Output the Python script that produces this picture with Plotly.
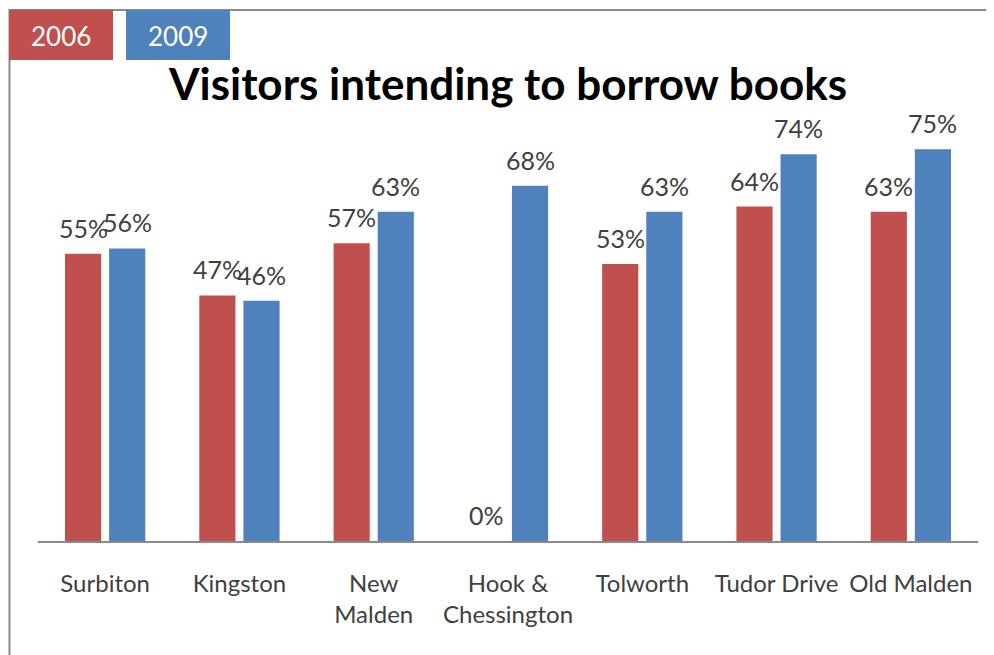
import plotly.graph_objects as go

categories = ["Surbiton", "Kingston", "New<br>Malden", "Hook &<br>Chessington",
              "Tolworth", "Tudor Drive", "Old Malden"]
series_names = ["2006", "2009"]
values_2006 = [55, 47, 57, 0, 53, 64, 63]
values_2009 = [56, 46, 63, 68, 63, 74, 75]
title_text = "Visitors intending to borrow books"

RED = "#C0504D"
BLUE = "#4F81BD"
TXT = "#404040"
FONT = "Lato"

OFF = 8  # page body margin offset
W, H = 994 - OFF, 655 - OFF
ML, MR, MT, MB = 38 - OFF, 16, 123 - OFF, 114
PW, PH = W - ML - MR, H - MT - MB

def px_x(p):
    return (p - OFF - ML) / PW

def px_y(p):
    return (H - MB - (p - OFF)) / PH

fig = go.Figure()
for name, vals, col in [(series_names[0], values_2006, RED), (series_names[1], values_2009, BLUE)]:
    fig.add_trace(go.Bar(x=categories, y=vals, name=name, marker=dict(color=col, line=dict(width=0)),
                         showlegend=False))

annotations = []
for vals, shift in [(values_2006, -22), (values_2009, 22)]:
    for c, v in zip(categories, vals):
        annotations.append(dict(x=c, y=v, xref="x", yref="y", text=f"{v}%", showarrow=False,
                                xshift=shift, yshift=9, yanchor="bottom",
                                font=dict(family=FONT, size=25, color=TXT)))

shapes = [
    dict(type="rect", xref="paper", yref="paper", x0=px_x(9.5), x1=px_x(1010), y0=px_y(10), y1=px_y(720),
         line=dict(color="#8a8a8a", width=2), fillcolor="rgba(0,0,0,0)", layer="below"),
    dict(type="rect", xref="paper", yref="paper", x0=px_x(9), x1=px_x(113), y0=px_y(10), y1=px_y(60),
         line=dict(width=0), fillcolor=RED),
    dict(type="rect", xref="paper", yref="paper", x0=px_x(126), x1=px_x(230), y0=px_y(10), y1=px_y(60),
         line=dict(width=0), fillcolor=BLUE),
]
for name, cx in [(series_names[0], 61), (series_names[1], 178)]:
    annotations.append(dict(x=px_x(cx), y=px_y(36), xref="paper", yref="paper", text=name,
                            showarrow=False, xanchor="center", yanchor="middle",
                            font=dict(family=FONT, size=26, color="white")))

fig.update_layout(
    width=W, height=H,
    margin=dict(l=ML, r=MR, t=MT, b=MB),
    paper_bgcolor="white", plot_bgcolor="white",
    barmode="group", bargap=0.343, bargroupgap=0.18,
    title=dict(text=f"<b>{title_text}</b>", x=0.5, xref="paper", y=1 - (85 - OFF) / H, yref="container",
               xanchor="center", yanchor="middle",
               font=dict(family=FONT, size=44, color="black")),
    xaxis=dict(showline=True, linecolor="#8a8a8a", linewidth=1.5, ticks="outside", ticklen=20,
               tickcolor="rgba(0,0,0,0)", showgrid=False, zeroline=False,
               tickfont=dict(family=FONT, size=24, color=TXT)),
    yaxis=dict(range=[0, 80], visible=False, showgrid=False, zeroline=False),
    shapes=shapes,
    annotations=annotations,
)

fig.write_html("out.html")
